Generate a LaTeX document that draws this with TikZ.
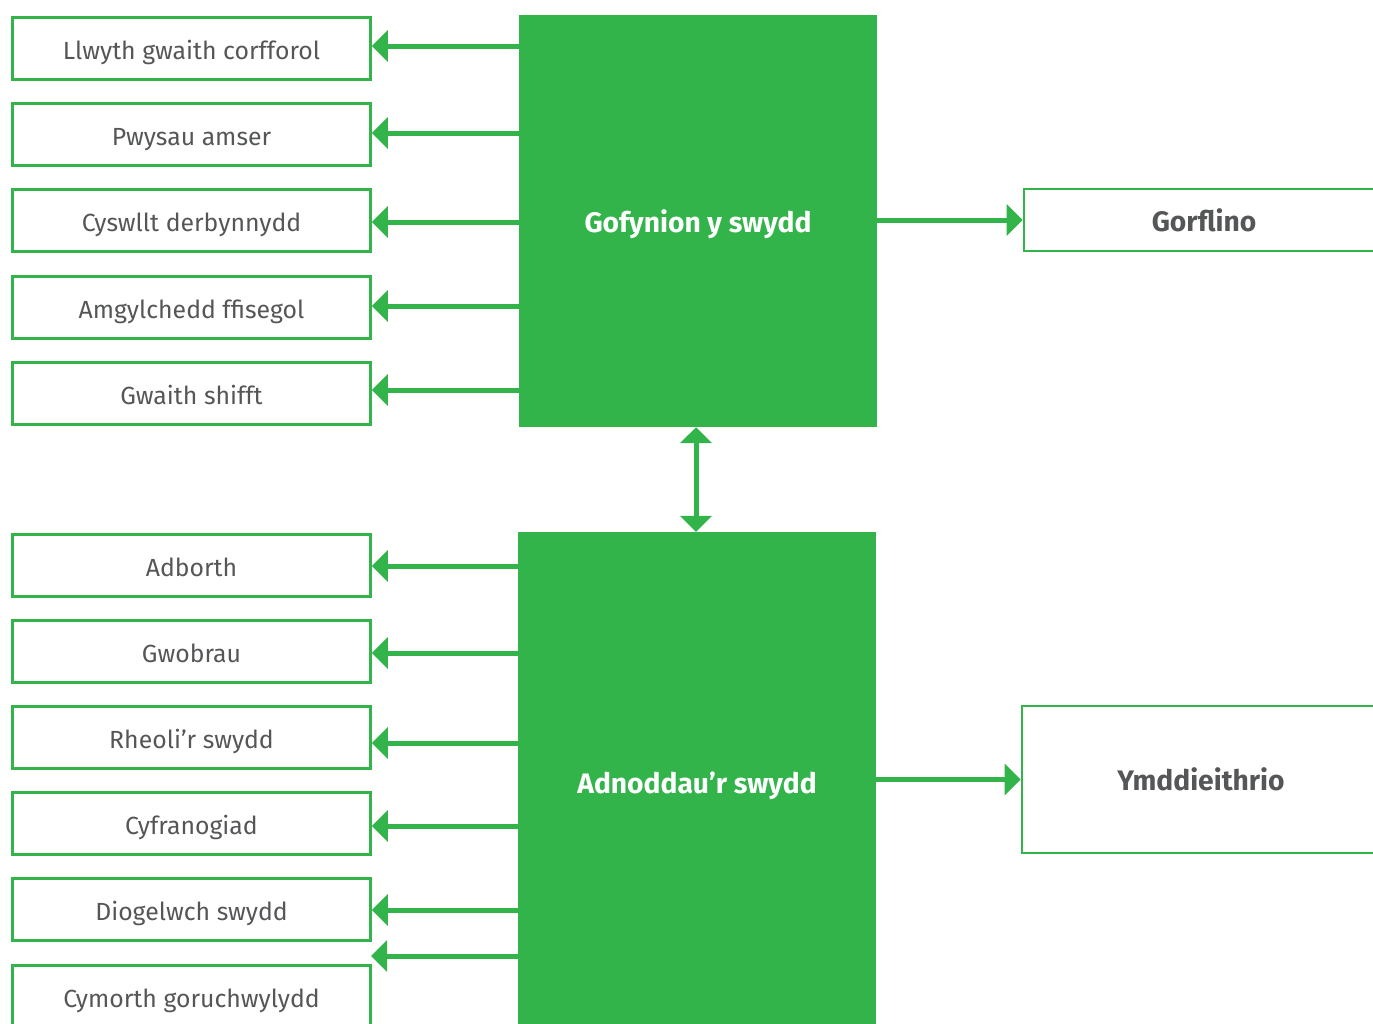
\documentclass[tikz,border=0pt]{standalone}
\usepackage{fontspec}
\setmainfont{Fira Sans}
\usetikzlibrary{arrows.meta}
\definecolor{grn}{RGB}{51,180,74}
\definecolor{txt}{RGB}{85,86,88}
\begin{document}
\begin{tikzpicture}[x=1pt,y=-1pt,
  lbox/.style={draw=grn, line width=2.6pt, minimum width=358pt, minimum height=62pt, inner sep=0pt, text=txt, text height=21pt, text depth=0pt, font=\fontsize{24.8}{26}\selectfont},
  rbox/.style={draw=grn, line width=2.6pt, inner sep=0pt, text=txt, text height=22pt, text depth=0pt, font=\fontsize{28.2}{30}\selectfont\bfseries},
  gbox/.style={fill=grn, inner sep=0pt, text=white, text height=22pt, text depth=0pt, font=\fontsize{28.2}{30}\selectfont\bfseries},
  arr/.style={draw=grn, line width=5pt, -{Triangle[length=16pt,width=31pt]}},
  arrb/.style={draw=grn, line width=5pt, {Triangle[length=16pt,width=31pt]}-{Triangle[length=16pt,width=31pt]}}]
\useasboundingbox (0,0) rectangle (1373,1023);
\clip (0,0) rectangle (1373,1023);
% green boxes
\node[gbox, minimum width=358pt, minimum height=412pt] (top) at (698,221) {Gofynion y swydd};
\node[gbox, minimum width=358pt, minimum height=500pt] (bot) at (697,782) {Adnoddau’r swydd};
% right boxes
\node[rbox, minimum width=360pt, minimum height=62pt] (gor) at (1204,220) {Gorflino};
\node[rbox, minimum width=358pt, minimum height=147pt] (ymd) at (1201,779.5) {Ymddieithrio};
% left boxes
\node[lbox] (a1) at (191.5,48.5) {Llwyth gwaith corfforol};
\node[lbox] (a2) at (191.5,134.5) {Pwysau amser};
\node[lbox] (a3) at (191.5,220.5) {Cyswllt derbynnydd};
\node[lbox] (a4) at (191.5,307.5) {Amgylchedd ffisegol};
\node[lbox] (a5) at (191.5,393.5) {Gwaith shifft};
\node[lbox] (b1) at (191.5,565.5) {Adborth};
\node[lbox] (b2) at (191.5,651.5) {Gwobrau};
\node[lbox] (b3) at (191.5,737.5) {Rheoli’r swydd};
\node[lbox] (b4) at (191.5,823.5) {Cyfranogiad};
\node[lbox] (b5) at (191.5,909.5) {Diogelwch swydd};
\node[lbox] (b6) at (191.5,996.5) {Cymorth goruchwylydd};
\coordinate (free) at (371,956);
% arrows (small vertical offsets as in the original)
\foreach \n/\d in {a1/2.5,a2/1.5,a3/-1.5,a4/1.5,a5/3.5}{
  \coordinate (e) at ([yshift=\d pt]\n.east);
  \draw[arr] (top.west |- e) -- (e);}
\foreach \n/\d in {b1/-0.5,b2/-1.5,b3/-5.5,b4/-2.5,b5/-0.5}{
  \coordinate (e) at ([yshift=\d pt]\n.east);
  \draw[arr] (bot.west |- e) -- (e);}
\draw[arr] (bot.west |- free) -- (free);
\draw[arr] (top.east |- gor.west) -- (gor.west);
\draw[arr] (bot.east |- ymd.west) -- (ymd.west);
\draw[arrb] (696,0 |- top.south) -- (696,0 |- bot.north);
\end{tikzpicture}
\end{document}
